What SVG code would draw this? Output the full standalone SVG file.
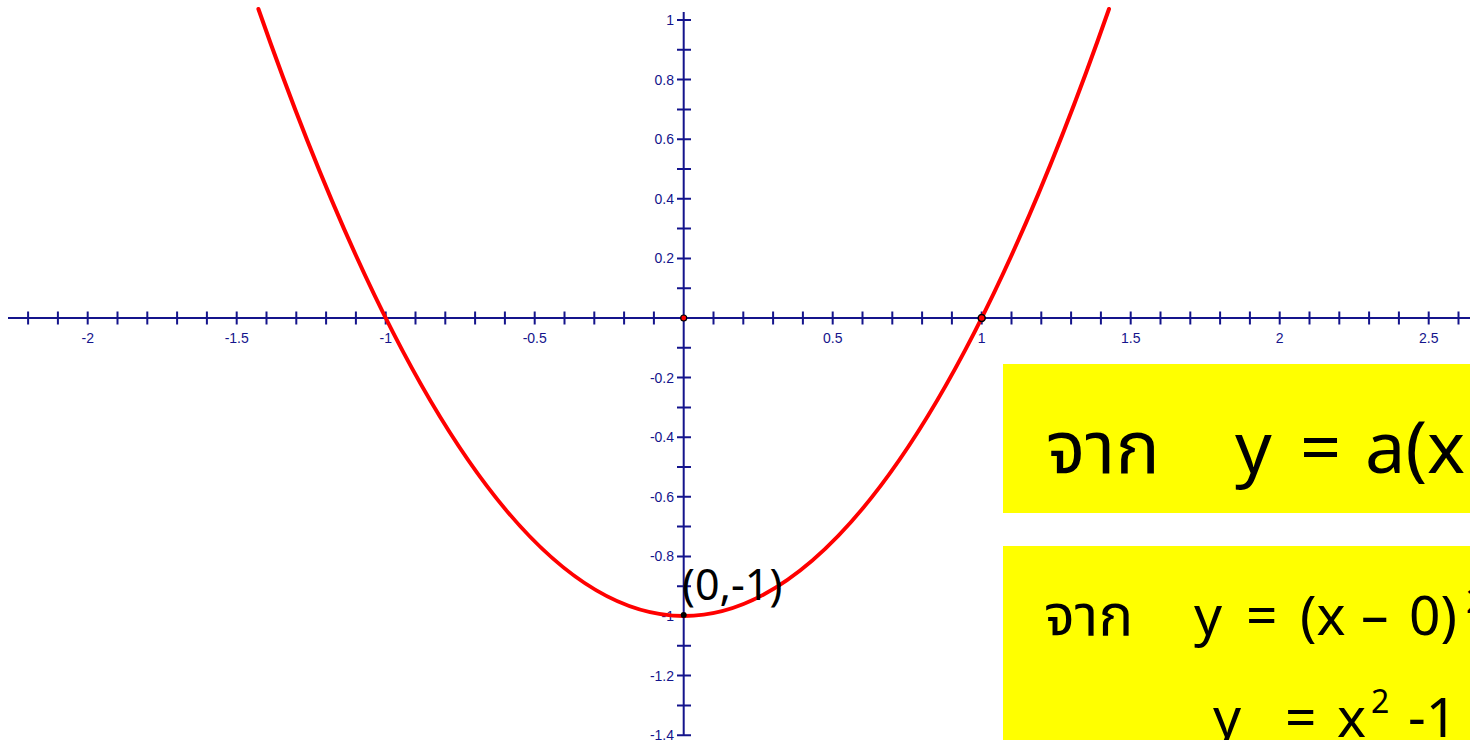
<svg xmlns="http://www.w3.org/2000/svg" width="1470" height="740" viewBox="0 0 1470 740">
<style>
.ax{stroke:#14148c;stroke-width:2;fill:none}
.lbl{font-family:"Liberation Sans",Arial,sans-serif;font-size:14px;fill:#14148c}
.xl{text-anchor:middle}
.yl{text-anchor:end}
.big{font-family:"Noto Sans","Noto Sans Thai","Open Sans",sans-serif;fill:#000}
</style>
<rect width="1470" height="740" fill="#fff"/>
<g id="axes">
<path class="ax" d="M8 318H1470M683.7 12V735"/>
<path class="ax" d="M28.1 311.5v13M57.9 311.5v13M87.7 311.5v13M117.5 311.5v13M147.3 311.5v13M177.1 311.5v13M206.9 311.5v13M236.7 311.5v13M266.5 311.5v13M296.3 311.5v13M326.1 311.5v13M355.9 311.5v13M385.7 311.5v13M415.5 311.5v13M445.3 311.5v13M475.1 311.5v13M504.9 311.5v13M534.7 311.5v13M564.5 311.5v13M594.3 311.5v13M624.1 311.5v13M653.9 311.5v13M713.5 311.5v13M743.3 311.5v13M773.1 311.5v13M802.9 311.5v13M832.7 311.5v13M862.5 311.5v13M892.3 311.5v13M922.1 311.5v13M951.9 311.5v13M981.7 311.5v13M1011.5 311.5v13M1041.3 311.5v13M1071.1 311.5v13M1100.9 311.5v13M1130.7 311.5v13M1160.5 311.5v13M1190.3 311.5v13M1220.1 311.5v13M1249.9 311.5v13M1279.7 311.5v13M1309.5 311.5v13M1339.3 311.5v13M1369.1 311.5v13M1398.9 311.5v13M1428.7 311.5v13M1458.5 311.5v13"/>
<path class="ax" d="M677 20h14M677 49.8h14M677 79.6h14M677 109.4h14M677 139.2h14M677 169h14M677 198.8h14M677 228.6h14M677 258.4h14M677 288.2h14M677 347.8h14M677 377.6h14M677 407.4h14M677 437.2h14M677 467h14M677 496.8h14M677 526.6h14M677 556.4h14M677 586.2h14M677 616h14M677 645.8h14M677 675.6h14M677 705.4h14M677 735.2h14"/>
<g class="lbl xl">
<text x="87.7" y="343">-2</text>
<text x="236.7" y="343">-1.5</text>
<text x="385.7" y="343">-1</text>
<text x="534.7" y="343">-0.5</text>
<text x="832.7" y="343">0.5</text>
<text x="981.7" y="343">1</text>
<text x="1130.7" y="343">1.5</text>
<text x="1279.7" y="343">2</text>
<text x="1428.7" y="343">2.5</text>
</g>
<g class="lbl yl">
<text x="674" y="25">1</text>
<text x="674" y="84.6">0.8</text>
<text x="674" y="144.2">0.6</text>
<text x="674" y="203.8">0.4</text>
<text x="674" y="263.4">0.2</text>
<text x="674" y="382.6">-0.2</text>
<text x="674" y="442.2">-0.4</text>
<text x="674" y="501.8">-0.6</text>
<text x="674" y="561.4">-0.8</text>
<text x="674" y="621">-1</text>
<text x="674" y="680.6">-1.2</text>
<text x="674" y="740.2">-1.4</text>
</g>
</g>
<g id="curve">
<path d="M258.4 9Q683.7 1223 1109 9" fill="none" stroke="#f00" stroke-width="4" stroke-linecap="round"/>
</g>
<g id="points">
<circle cx="683.7" cy="318" r="3" fill="#f00" stroke="#000" stroke-width="1.2"/>
<circle cx="981.7" cy="318" r="3.5" fill="#f00" stroke="#000" stroke-width="1.5"/>
<circle cx="683.7" cy="615" r="3" fill="#000"/>
<text class="big" x="682" y="600" font-size="43">(0,-1)</text>
</g>
<g id="box1">
<rect x="1003" y="364" width="467" height="149" fill="#ff0"/>
<text class="big" y="473" font-size="72"><tspan x="1046" font-size="74">จาก</tspan><tspan x="1235">y</tspan><tspan x="1300">=</tspan><tspan x="1365">a(x</tspan></text>
</g>
<g id="box2">
<rect x="1003" y="546" width="467" height="194" fill="#ff0"/>
<text class="big" y="635" font-size="55"><tspan x="1044" font-size="58">จาก</tspan><tspan x="1194">y</tspan><tspan x="1246">=</tspan><tspan x="1300">(x</tspan><tspan x="1361">–</tspan><tspan x="1409">0)</tspan><tspan x="1466" dy="-22" font-size="32">2</tspan></text>
<text class="big" y="737" font-size="55"><tspan x="1213">y</tspan><tspan x="1285">=</tspan><tspan x="1337">x</tspan><tspan x="1371" dy="-24" font-size="32">2</tspan><tspan x="1408" dy="24">-1</tspan></text>
</g>
</svg>
